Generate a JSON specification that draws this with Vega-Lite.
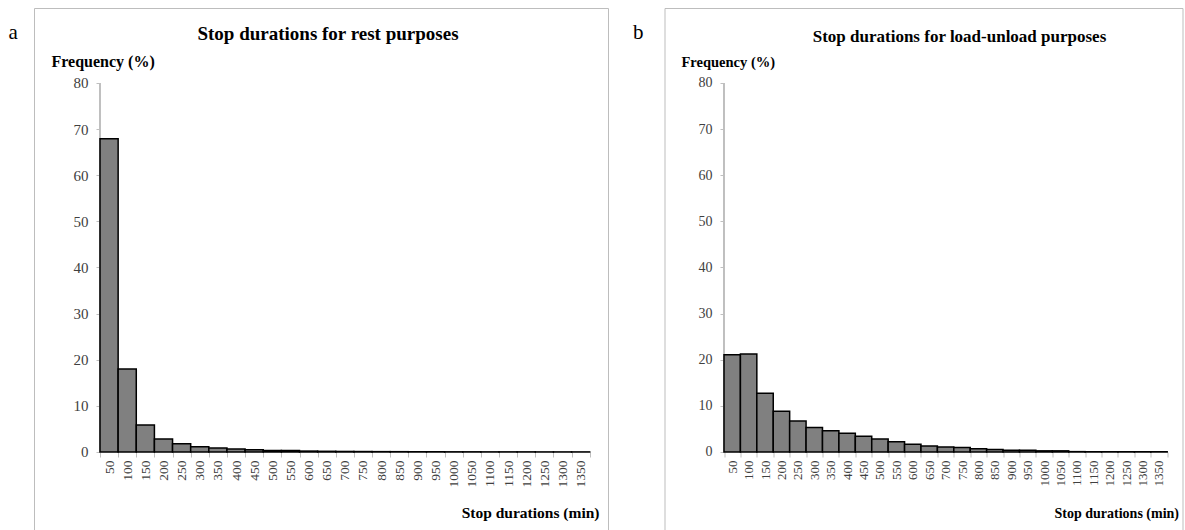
{
  "$schema": "https://vega.github.io/schema/vega-lite/v6.json",
  "padding": {"left": 8, "top": 7, "right": 2, "bottom": -6},
  "background": "white",
  "config": {"view": {"stroke": "#bdbdbd", "strokeWidth": 1}, "font": "Liberation Serif"},
  "datasets": {
    "rest": [
      {"duration": "50", "freq": 67.9}, {"duration": "100", "freq": 18.0}, {"duration": "150", "freq": 5.85},
      {"duration": "200", "freq": 2.8}, {"duration": "250", "freq": 1.8}, {"duration": "300", "freq": 1.15},
      {"duration": "350", "freq": 0.87}, {"duration": "400", "freq": 0.65}, {"duration": "450", "freq": 0.5},
      {"duration": "500", "freq": 0.35}, {"duration": "550", "freq": 0.35}, {"duration": "600", "freq": 0.2},
      {"duration": "650", "freq": 0.15}, {"duration": "700", "freq": 0.12}, {"duration": "750", "freq": 0.1},
      {"duration": "800", "freq": 0.08}, {"duration": "850", "freq": 0.07}, {"duration": "900", "freq": 0.05},
      {"duration": "950", "freq": 0.05}, {"duration": "1000", "freq": 0.04}, {"duration": "1050", "freq": 0.04},
      {"duration": "1100", "freq": 0.03}, {"duration": "1150", "freq": 0.03}, {"duration": "1200", "freq": 0.03},
      {"duration": "1250", "freq": 0.02}, {"duration": "1300", "freq": 0.02}, {"duration": "1350", "freq": 0.02}
    ],
    "load": [
      {"duration": "50", "freq": 21.1}, {"duration": "100", "freq": 21.25}, {"duration": "150", "freq": 12.75},
      {"duration": "200", "freq": 8.85}, {"duration": "250", "freq": 6.7}, {"duration": "300", "freq": 5.3},
      {"duration": "350", "freq": 4.6}, {"duration": "400", "freq": 4.05}, {"duration": "450", "freq": 3.4},
      {"duration": "500", "freq": 2.8}, {"duration": "550", "freq": 2.2}, {"duration": "600", "freq": 1.7},
      {"duration": "650", "freq": 1.3}, {"duration": "700", "freq": 1.1}, {"duration": "750", "freq": 0.95},
      {"duration": "800", "freq": 0.7}, {"duration": "850", "freq": 0.55}, {"duration": "900", "freq": 0.4},
      {"duration": "950", "freq": 0.4}, {"duration": "1000", "freq": 0.25}, {"duration": "1050", "freq": 0.25},
      {"duration": "1100", "freq": 0.08}, {"duration": "1150", "freq": 0.05}, {"duration": "1200", "freq": 0.05},
      {"duration": "1250", "freq": 0.05}, {"duration": "1300", "freq": 0.05}, {"duration": "1350", "freq": 0.05}
    ]
  },
  "bounds": "full",
  "spacing": 23.5,
  "resolve": {"scale": {"x": "independent", "y": "independent"}},
  "hconcat": [
    {
      "title": {"text": "a", "anchor": "start", "dx": -18, "offset": -52, "baseline": "alphabetic", "fontSize": 21, "fontWeight": "normal", "font": "Liberation Serif", "color": "black"},
      "vconcat": [
        {
          "width": 574,
          "height": 527,
          "title": {"text": "Stop durations for rest purposes", "anchor": "middle", "frame": "group", "dx": 7, "offset": -51, "baseline": "alphabetic", "fontSize": 19, "fontWeight": "bold", "font": "Liberation Serif", "color": "black"},
          "data": {"name": "rest"},
          "layer": [
            {
              "mark": {"type": "rule", "color": "#bfbfbf", "strokeWidth": 1},
              "encoding": {
                "x": {"datum": "50", "type": "nominal", "bandPosition": 0},
                "y": {"datum": 0, "type": "quantitative"},
                "y2": {"datum": 80}
              }
            },
            {
              "mark": {"type": "bar", "fill": "#808080", "stroke": "black", "strokeWidth": 1.5},
              "encoding": {
                "x": {
                  "field": "duration", "type": "nominal", "sort": null,
                  "scale": {"paddingInner": 0, "paddingOuter": 0, "range": [66, 555.7]},
                  "axis": {
                    "orient": "bottom", "offset": -83, "domain": false, "tickBand": "extent",
                    "tickSize": 5, "tickColor": "#bfbfbf", "labelAngle": -90, "labelPadding": 3,
                    "labelFontSize": 13.5, "labelColor": "#404040", "labelOverlap": false,
                    "labelFont": "Liberation Serif",
                    "title": "Stop durations (min)", "titleX": 565, "titleY": 65, "titleAlign": "right",
                    "titleBaseline": "alphabetic", "titleFontSize": 15.5, "titleFontWeight": "bold",
                    "titleColor": "black", "titleFont": "Liberation Serif"
                  }
                },
                "y": {
                  "field": "freq", "type": "quantitative",
                  "scale": {"domain": [-17.995, 96.26], "nice": false},
                  "axis": {
                    "orient": "left", "offset": -66, "values": [0, 10, 20, 30, 40, 50, 60, 70, 80],
                    "domain": false, "grid": false, "tickSize": 4, "tickColor": "#bfbfbf",
                    "labelPadding": 8, "labelFontSize": 15, "labelColor": "#404040", "labelFont": "Liberation Serif",
                    "title": "Frequency (%)", "titleAngle": 0, "titleAlign": "left", "titleBaseline": "alphabetic",
                    "titleX": -49, "titleY": 58, "titleFontSize": 16, "titleFontWeight": "bold",
                    "titleColor": "black", "titleFont": "Liberation Serif"
                  }
                }
              }
            }
          ]
        }
      ]
    },
    {
      "title": {"text": "b", "anchor": "start", "dx": -25, "offset": -52, "baseline": "alphabetic", "fontSize": 21, "fontWeight": "normal", "font": "Liberation Serif", "color": "black"},
      "vconcat": [
        {
          "width": 518,
          "height": 527,
          "title": {"text": "Stop durations for load-unload purposes", "anchor": "middle", "frame": "group", "dx": 36, "offset": -51, "baseline": "alphabetic", "fontSize": 17, "fontWeight": "bold", "font": "Liberation Serif", "color": "black"},
          "data": {"name": "load"},
          "layer": [
            {
              "mark": {"type": "rule", "color": "#bfbfbf", "strokeWidth": 1},
              "encoding": {
                "x": {"datum": "50", "type": "nominal", "bandPosition": 0},
                "y": {"datum": 0, "type": "quantitative"},
                "y2": {"datum": 80}
              }
            },
            {
              "mark": {"type": "bar", "fill": "#808080", "stroke": "black", "strokeWidth": 1.5},
              "encoding": {
                "x": {
                  "field": "duration", "type": "nominal", "sort": null,
                  "scale": {"paddingInner": 0, "paddingOuter": 0, "range": [59.5, 502.7]},
                  "axis": {
                    "orient": "bottom", "offset": -83, "domain": false, "tickBand": "extent",
                    "tickSize": 5, "tickColor": "#bfbfbf", "labelAngle": -90, "labelPadding": 3,
                    "labelFontSize": 13, "labelColor": "#404040", "labelOverlap": false,
                    "labelFont": "Liberation Serif",
                    "title": "Stop durations (min)", "titleX": 514, "titleY": 65, "titleAlign": "right",
                    "titleBaseline": "alphabetic", "titleFontSize": 14, "titleFontWeight": "bold",
                    "titleColor": "black", "titleFont": "Liberation Serif"
                  }
                },
                "y": {
                  "field": "freq", "type": "quantitative",
                  "scale": {"domain": [-17.995, 96.26], "nice": false},
                  "axis": {
                    "orient": "left", "offset": -59.5, "values": [0, 10, 20, 30, 40, 50, 60, 70, 80],
                    "domain": false, "grid": false, "tickSize": 4, "tickColor": "#bfbfbf",
                    "labelPadding": 8, "labelFontSize": 14, "labelColor": "#404040", "labelFont": "Liberation Serif",
                    "title": "Frequency (%)", "titleAngle": 0, "titleAlign": "left", "titleBaseline": "alphabetic",
                    "titleX": -43, "titleY": 58, "titleFontSize": 14.5, "titleFontWeight": "bold",
                    "titleColor": "black", "titleFont": "Liberation Serif"
                  }
                }
              }
            }
          ]
        }
      ]
    }
  ]
}
